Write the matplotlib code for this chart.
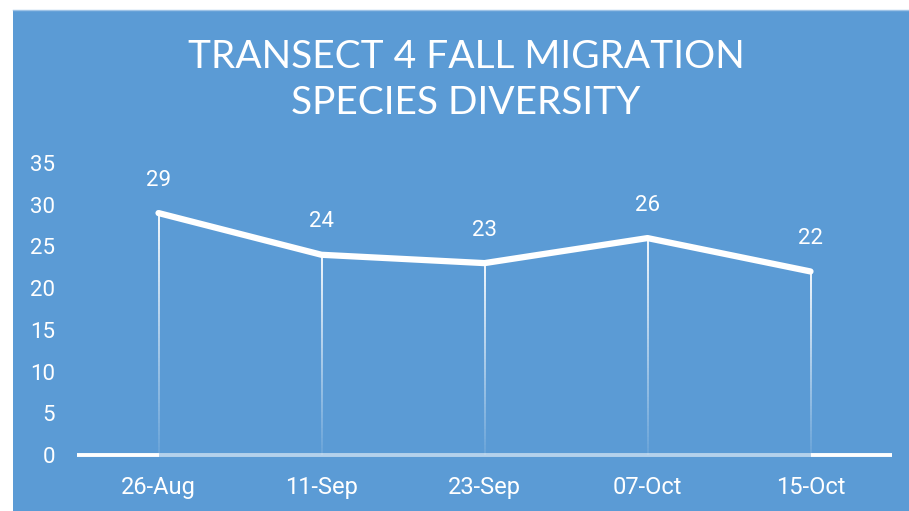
import numpy as np
import matplotlib
matplotlib.use("Agg")
import matplotlib.pyplot as plt
from matplotlib.collections import LineCollection
from matplotlib.patches import Rectangle

categories = ["26-Aug", "11-Sep", "23-Sep", "07-Oct", "15-Oct"]
values = [29, 24, 23, 26, 22]
yticks = [0, 5, 10, 15, 20, 25, 30, 35]
title = "TRANSECT 4 FALL MIGRATION\nSPECIES DIVERSITY"

BLUE = "#5B9BD5"
W, H = 909, 511
fig = plt.figure(figsize=(W / 100, H / 100), dpi=100, facecolor="white")
fig.patches.append(Rectangle((13 / W, 0), 1 - 13 / W, (H - 10) / H,
                             transform=fig.transFigure, facecolor=BLUE,
                             edgecolor="none", zorder=-10))
fig.lines.append(plt.Line2D([13 / W, 1], [(H - 10) / H] * 2, transform=fig.transFigure,
                            color="#9EC3E6", lw=1, zorder=-9))

ax = fig.add_axes([77 / W, 56 / H, (892 - 77) / W, (455 - 163) / H])
ax.set_zorder(5)
ax.set_facecolor("none")
x = np.arange(len(categories))
ax.set_xlim(-0.5, len(categories) - 0.5)
ax.set_ylim(0, 35)
for s in ax.spines.values():
    s.set_visible(False)

num_font = ["Roboto", "DejaVu Sans"]

# axis line
ax.plot([-0.5, 0], [0, 0], color="white", lw=2.8, solid_capstyle="butt", clip_on=False, zorder=2)
ax.plot([len(categories) - 1, len(categories) - 0.5], [0, 0], color="white", lw=2.8,
        solid_capstyle="butt", clip_on=False, zorder=2)
ax.plot([0, len(categories) - 1], [0, 0], color="white", alpha=0.55, lw=2.8,
        solid_capstyle="butt", clip_on=False, zorder=2)

# drop lines with fading gradient
n = 60
for xi, v in zip(x, values):
    ys = np.linspace(v, 0, n + 1)
    segs = [[(xi, ys[i]), (xi, ys[i + 1])] for i in range(n)]
    alphas = np.linspace(1.0, 0.1, n)
    cols = [(1, 1, 1, a) for a in alphas]
    ax.add_collection(LineCollection(segs, colors=cols, linewidths=1.3, zorder=3))

ax.plot(x, values, color="white", lw=4.5, solid_capstyle="round",
        solid_joinstyle="round", zorder=4, clip_on=False)

for xi, v in zip(x, values):
    ax.annotate(str(v), (xi, v), xytext=(0, 33), textcoords="offset pixels",
                ha="center", va="center", color="white", fontsize=16, family=num_font)

ax.set_yticks(yticks)
ax.set_yticklabels([str(t) for t in yticks], family=num_font, fontsize=16, color="white")
ax.set_xticks(x)
ax.set_xticklabels(categories, family=["Roboto", "DejaVu Sans"], fontsize=17,
                   color="white")
ax.tick_params(axis="y", length=0, pad=16)
ax.tick_params(axis="x", length=0, pad=15)

fig.text(466 / W, 1 - 80 / H, title, ha="center", va="center", color="white",
         fontsize=28, family=["Lato", "DejaVu Sans"], fontweight="normal", linespacing=1.32)

fig.savefig("out.png", dpi=100, facecolor="white")
